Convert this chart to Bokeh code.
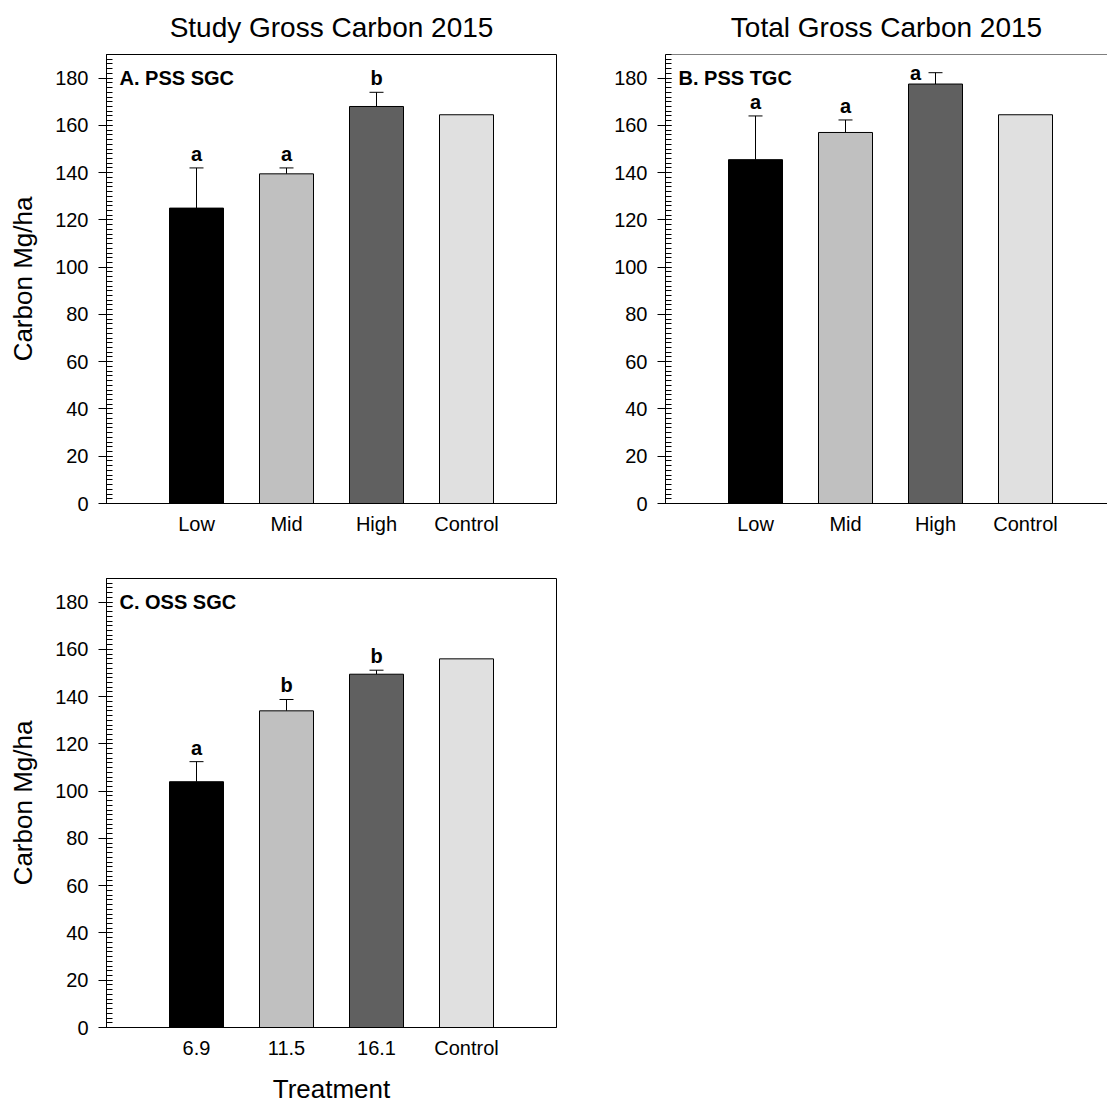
from bokeh.plotting import figure
from bokeh.layouts import column, row
from bokeh.models import (Range1d, SingleIntervalTicker, FixedTicker, Whisker, TeeHead,
                          ColumnDataSource, Label, Span)
from bokeh.core.properties import value
from bokeh.embed import file_html
from bokeh.resources import INLINE

FONT = "Liberation Sans"

# ---------------- data ----------------
cats_pss = ["Low", "Mid", "High", "Control"]
cats_oss = ["6.9", "11.5", "16.1", "Control"]
bar_colors = ["#000000", "#c0c0c0", "#606060", "#e0e0e0"]

a_mean = [125.0, 139.5, 168.0, 164.5]
a_err = [17.0, 2.5, 6.0, None]
a_letters = ["a", "a", "b", ""]

b_mean = [145.5, 157.0, 177.5, 164.5]
b_err = [18.5, 5.3, 4.8, None]
b_letters = ["a", "a", "a", ""]

c_mean = [104.0, 134.0, 149.5, 156.0]
c_err = [8.5, 4.8, 1.7, None]
c_letters = ["a", "b", "b", ""]

y_max = 190
unit_px = 90  # pixels per category slot


def make_panel(cats, means, errs, letters, panel_label, width, height,
               bl, br, bt, bb, title=None, ylabel=None, xlabel=None,
               letter_shift=None, open_right=False):
    frame_w = width - bl - br
    x_end = frame_w / unit_px
    p = figure(width=width, height=height, output_backend="svg", toolbar_location=None,
               x_range=Range1d(0, x_end), y_range=Range1d(0, y_max),
               min_border_left=bl, min_border_right=br, min_border_top=bt, min_border_bottom=bb)
    p.background_fill_color = "white"
    p.border_fill_color = "white"
    p.xgrid.visible = False
    p.ygrid.visible = False
    if open_right:
        p.outline_line_color = None
        p.add_layout(Span(location=y_max, dimension="width", line_color="black", line_width=1))
    else:
        p.outline_line_color = "black"
        p.outline_line_width = 1
        p.outline_line_alpha = 1.0

    xs = [i + 1 for i in range(len(cats))]
    src = ColumnDataSource(dict(x=xs, top=means, color=bar_colors))
    p.vbar(x="x", top="top", bottom=0, width=0.6, fill_color="color",
           line_color="black", line_width=1, source=src)

    ex, elo, ehi, lx, ly, lt, xo, yo, base = [], [], [], [], [], [], [], [], []
    for i, (m, e, t) in enumerate(zip(means, errs, letters)):
        if e is None:
            continue
        ex.append(xs[i]); elo.append(m); ehi.append(m + e)
        lx.append(xs[i]); ly.append(m + e); lt.append(t)
        if letter_shift is not None and letter_shift[i] is not None:
            xo.append(letter_shift[i][0]); yo.append(letter_shift[i][1]); base.append("middle")
        else:
            xo.append(0); yo.append(-3); base.append("bottom")
    esrc = ColumnDataSource(dict(x=ex, lower=elo, upper=ehi))
    p.add_layout(Whisker(source=esrc, base="x", lower="lower", upper="upper",
                         dimension="height", line_color="black", line_width=1,
                         upper_head=TeeHead(size=14, line_color="black", line_width=1),
                         lower_head=None))
    lsrc = ColumnDataSource(dict(x=lx, y=ly, text=lt, xo=xo, yo=yo, base=base))
    p.text(x="x", y="y", text="text", x_offset="xo", y_offset="yo", source=lsrc,
           text_font=value(FONT), text_font_style="bold", text_font_size="20px",
           text_align="center", text_baseline="base", text_color="black")

    p.add_layout(Label(x=0, y=180, x_offset=13, text=panel_label, text_font=FONT,
                       text_font_style="bold", text_font_size="20px",
                       text_baseline="middle", text_color="black"))

    # y axis
    ya = p.yaxis[0]
    ya.ticker = SingleIntervalTicker(interval=20, num_minor_ticks=10)
    ya.major_tick_out = 8
    ya.major_tick_in = 6
    ya.minor_tick_out = 0
    ya.minor_tick_in = 6
    ya.major_label_standoff = 10
    ya.major_label_text_font = FONT
    ya.major_label_text_font_size = "20px"
    ya.major_label_text_color = "black"
    ya.axis_line_color = "black"
    ya.major_tick_line_color = "black"
    ya.minor_tick_line_color = "black"
    if ylabel:
        ya.axis_label = ylabel
        ya.axis_label_text_font = FONT
        ya.axis_label_text_font_size = "26px"
        ya.axis_label_text_font_style = "normal"
        ya.axis_label_text_color = "black"
        ya.axis_label_standoff = 14

    # x axis
    xa = p.xaxis[0]
    xa.ticker = FixedTicker(ticks=xs)
    xa.major_label_overrides = {x: c for x, c in zip(xs, cats)}
    xa.major_tick_line_color = None
    xa.minor_tick_line_color = None
    xa.major_tick_out = 0
    xa.major_tick_in = 0
    xa.major_label_standoff = 9
    xa.major_label_text_font = FONT
    xa.major_label_text_font_size = "20px"
    xa.major_label_text_color = "black"
    xa.axis_line_color = "black"
    if xlabel:
        xa.axis_label = xlabel
        xa.axis_label_text_font = FONT
        xa.axis_label_text_font_size = "26px"
        xa.axis_label_text_font_style = "normal"
        xa.axis_label_text_color = "black"
        xa.axis_label_standoff = 12

    if title:
        p.title.text = title
        p.title.align = "center"
        p.title.vertical_align = "top"
        p.title.text_font = FONT
        p.title.text_font_size = "28px"
        p.title.text_font_style = "normal"
        p.title.text_color = "black"
        p.title.standoff = 19
    return p


pA = make_panel(cats_pss, a_mean, a_err, a_letters, "A. PSS SGC", 600, 545, 106, 44, 54, 42,
                title="Study Gross Carbon 2015", ylabel="Carbon Mg/ha")
pB = make_panel(cats_pss, b_mean, b_err, b_letters, "B. PSS TGC", 507, 545, 65, 0, 54, 42,
                title="Total Gross Carbon 2015", letter_shift=[None, None, (-20, 0), None],
                open_right=True)
pC = make_panel(cats_oss, c_mean, c_err, c_letters, "C. OSS SGC", 600, 562, 106, 44, 33, 80,
                ylabel="Carbon Mg/ha", xlabel="Treatment")

layout = column(row(pA, pB), pC)
open("out.html", "w").write(file_html(layout, INLINE))
